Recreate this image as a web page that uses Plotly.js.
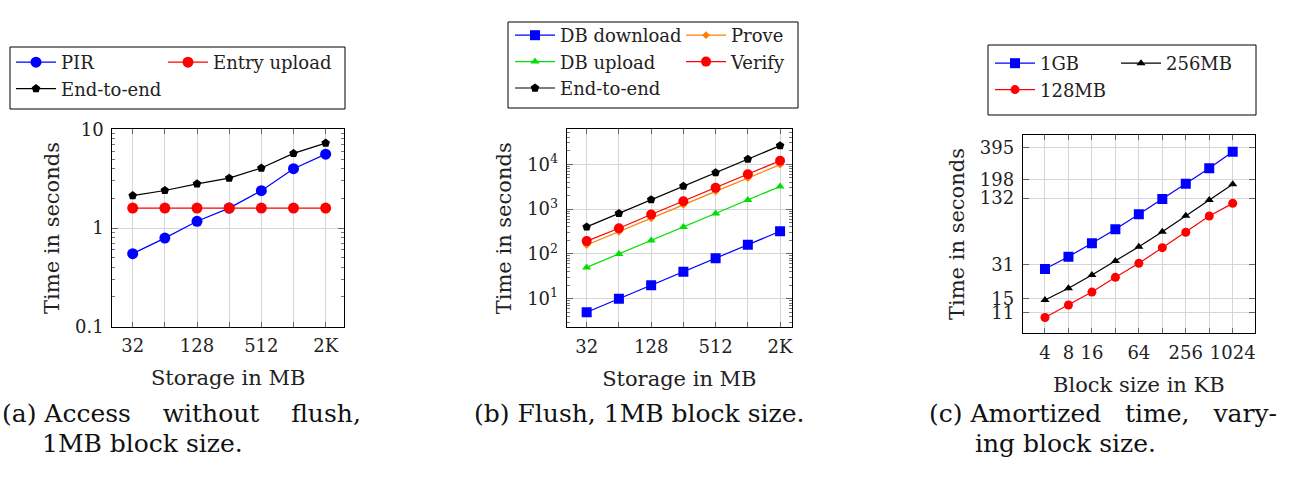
<!DOCTYPE html>
<html><head><meta charset="utf-8">
<script src="https://cdn.plot.ly/plotly-3.0.1.min.js"></script>
<style>html,body{margin:0;padding:0;background:#fff}#chart{width:1300px;height:484px}</style>
</head><body><div id="chart"></div>
<script>
// ---------- data (a) Access without flush ----------
const storageA = [32, 64, 128, 256, 512, 1024, 2048];
const storageTicksA = ['32', '', '128', '', '512', '', '2K'];
const pirA = [0.55, 0.79, 1.17, 1.59, 2.39, 3.99, 5.6];
const entryUploadA = [1.59, 1.59, 1.59, 1.59, 1.59, 1.59, 1.59];
const endToEndA = [2.13, 2.4, 2.8, 3.2, 4.05, 5.7, 7.25];
const timeTicksA = [0.1, 1, 10];
const timeTickTextA = ['0.1', '1', '10'];

// ---------- data (b) Flush ----------
const storageB = [32, 64, 128, 256, 512, 1024, 2048];
const storageTicksB = ['32', '', '128', '', '512', '', '2K'];
const dbDownloadB = [5, 10, 20, 40, 80, 160, 320];
const dbUploadB = [50, 100, 200, 400, 800, 1600, 3200];
const proveB = [158, 310, 620, 1240, 2480, 4900, 9800];
const verifyB = [193, 372, 755, 1500, 3000, 6000, 12000];
const endToEndB = [400, 800, 1620, 3250, 6500, 13000, 26000];
const timeTicksB = [10, 100, 1000, 10000];
const timeTickTextB = ['10<sup>1</sup>', '10<sup>2</sup>', '10<sup>3</sup>', '10<sup>4</sup>'];

// ---------- data (c) Amortized time ----------
const blockSizeC = [4, 8, 16, 32, 64, 128, 256, 512, 1024];
const blockTicksC = ['4', '8', '16', '', '64', '', '256', '', '1024'];
const gb1C = [28.4, 37.1, 49.6, 67.2, 93.1, 129.7, 180.9, 252.6, 362];
const mb256C = [14.5, 18.7, 24.9, 33.8, 46.1, 63.8, 90.3, 127, 178.5];
const mb128C = [9.9, 13.0, 17.2, 23.7, 32.1, 45.1, 63, 89.7, 118];
const timeTicksC = [11, 15, 31, 132, 198, 395];

// ---------- layout helpers ----------
const W = 1300, H = 484;
const FONT = 'DejaVu Serif';
const TXT = '#222';
const GRID = '#d6d6d6';
const L2 = Math.log10(2);

function minorLog(lo, hi) {
  const v = [];
  for (let d = lo; d < hi; d++) for (let m = 2; m <= 9; m++) v.push(m * Math.pow(10, d));
  return v;
}

function xAxis(l, r, range, tickvals, ticktext, title, anchor) {
  return {
    domain: [l / W, r / W], anchor: anchor, type: 'log', range: range,
    tickmode: 'array', tickvals: tickvals, ticktext: ticktext, tickangle: 0,
    ticks: 'inside', ticklen: 5, tickcolor: '#666', tickwidth: 1, ticklabelstandoff: 3,
    showline: true, linecolor: '#000', linewidth: 1, mirror: 'ticks',
    showgrid: true, gridcolor: GRID, gridwidth: 1, zeroline: false,
    tickfont: {family: FONT, size: 18, color: TXT},
    title: {text: title, font: {family: FONT, size: 21, color: TXT}, standoff: 15},
    fixedrange: true
  };
}
function yAxis(t, b, range, tickvals, ticktext, anchor, minor) {
  const a = {
    domain: [1 - b / H, 1 - t / H], anchor: anchor, type: 'log', range: range,
    tickmode: 'array', tickvals: tickvals, ticktext: ticktext,
    ticks: 'inside', ticklen: 6, tickcolor: '#666', tickwidth: 1, ticklabelstandoff: 4,
    showline: true, linecolor: '#000', linewidth: 1, mirror: 'ticks',
    showgrid: true, gridcolor: GRID, gridwidth: 1, zeroline: false,
    tickfont: {family: FONT, size: 18, color: TXT},
    title: {text: 'Time in seconds', font: {family: FONT, size: 21, color: TXT}, standoff: 9},
    fixedrange: true
  };
  if (minor) a.minor = {tickmode: 'array', tickvals: minor, ticks: 'inside', ticklen: 3, tickcolor: '#777', tickwidth: 1, showgrid: false};
  return a;
}

function serif(s) {
  return '<span style="font-family:DejaVu Serif">' + s + '</span>';
}

function tr(x, y, name, color, symbol, size, xa, ya, lg) {
  return {
    x: x, y: y, name: serif(name), type: 'scatter', mode: 'lines+markers',
    xaxis: xa, yaxis: ya, legend: lg,
    line: {color: color, width: 1.2},
    marker: {color: color, symbol: symbol, size: size, line: {width: 0}},
    hoverinfo: 'skip'
  };
}

const data = [
  tr(storageA, pirA, 'PIR', '#0000ff', 'circle', 11, 'x', 'y', 'legend'),
  tr(storageA, endToEndA, 'End-to-end', '#000000', 'pentagon', 9, 'x', 'y', 'legend'),
  tr(storageA, entryUploadA, 'Entry upload', '#ff0000', 'circle', 11, 'x', 'y', 'legend2'),

  tr(storageB, dbDownloadB, 'DB download', '#0000ff', 'square', 10, 'x2', 'y2', 'legend3'),
  tr(storageB, dbUploadB, 'DB upload', '#00e000', 'triangle-up', 8, 'x2', 'y2', 'legend3'),
  tr(storageB, endToEndB, 'End-to-end', '#000000', 'pentagon', 9, 'x2', 'y2', 'legend3'),
  tr(storageB, proveB, 'Prove', '#ff8000', 'diamond', 6, 'x2', 'y2', 'legend4'),
  tr(storageB, verifyB, 'Verify', '#ff0000', 'circle', 10, 'x2', 'y2', 'legend4'),

  tr(blockSizeC, gb1C, '1GB', '#0000ff', 'square', 10, 'x3', 'y3', 'legend5'),
  tr(blockSizeC, mb128C, '128MB', '#ff0000', 'circle', 9, 'x3', 'y3', 'legend5'),
  tr(blockSizeC, mb256C, '256MB', '#000000', 'triangle-up', 8, 'x3', 'y3', 'legend6')
];

function lgd(x, y) {
  return {
    x: x / W, y: 1 - y / H, xanchor: 'left', yanchor: 'top', orientation: 'v',
    itemwidth: 40, borderwidth: 0, bgcolor: 'rgba(0,0,0,0)',
    font: {family: FONT, size: 18, color: TXT}, traceorder: 'normal', tracegroupgap: 0
  };
}
function box(l, t, r, b) {
  return {type: 'rect', xref: 'paper', yref: 'paper', x0: l / W, x1: r / W, y0: 1 - b / H, y1: 1 - t / H,
    line: {color: '#000', width: 1}, fillcolor: 'rgba(0,0,0,0)', layer: 'below'};
}

const capFont = {family: FONT, size: 25, color: '#111'};
function cap(x, y, text) {
  return {xref: 'paper', yref: 'paper', x: x / W, y: 1 - y / H, xanchor: 'left', yanchor: 'middle',
    text: text, showarrow: false, align: 'left', font: capFont};
}

const layout = {
  width: W, height: H, margin: {l: 0, r: 0, t: 0, b: 0, autoexpand: false},
  paper_bgcolor: '#fff', plot_bgcolor: '#fff',
  font: {family: FONT, color: TXT},
  showlegend: true,
  xaxis: xAxis(112.3, 344, [Math.log10(32) - 0.634 * L2, Math.log10(2048) + 0.57 * L2], storageA, storageTicksA, 'Storage in MB', 'y'),
  yaxis: yAxis(129.3, 326.7, [-1, 1], timeTicksA, timeTickTextA, 'x', minorLog(-1, 1)),
  xaxis2: xAxis(566.7, 792, [Math.log10(32) - 0.62 * L2, Math.log10(2048) + 0.37 * L2], storageB, storageTicksB, 'Storage in MB', 'y2'),
  yaxis2: yAxis(129.3, 327.3, [0.362, 4.78], timeTicksB, timeTickTextB, 'x2', minorLog(0, 5)),
  xaxis3: xAxis(1022.7, 1255, [Math.log10(4) - 0.95 * L2, Math.log10(1024) + 0.95 * L2], blockSizeC, blockTicksC, 'Block size in KB', 'y3'),
  yaxis3: yAxis(135, 333, [0.85, 2.716], timeTicksC, timeTicksC.map(String), 'x3', null),
  legend: lgd(11, 44),
  legend2: lgd(163, 44),
  legend3: lgd(510, 17),
  legend4: lgd(681, 17),
  legend5: lgd(990, 45),
  legend6: lgd(1116, 45),
  shapes: [box(10, 47, 345, 109), box(508, 22, 798, 108), box(988, 45, 1256, 115)],
  annotations: [
    cap(0, 413, '(a) Access&nbsp;&nbsp;&nbsp; without&nbsp;&nbsp;&nbsp; flush,'),
    cap(40, 443, '1MB block size.'),
    cap(472, 413, '(b) Flush, 1MB block size.'),
    cap(927, 413, '(c) Amortized&nbsp;&nbsp; time,&nbsp;&nbsp; vary-'),
    cap(973, 443, 'ing block size.')
  ]
};

Plotly.newPlot('chart', data, layout, {staticPlot: true, displayModeBar: false});
</script>
</body></html>
